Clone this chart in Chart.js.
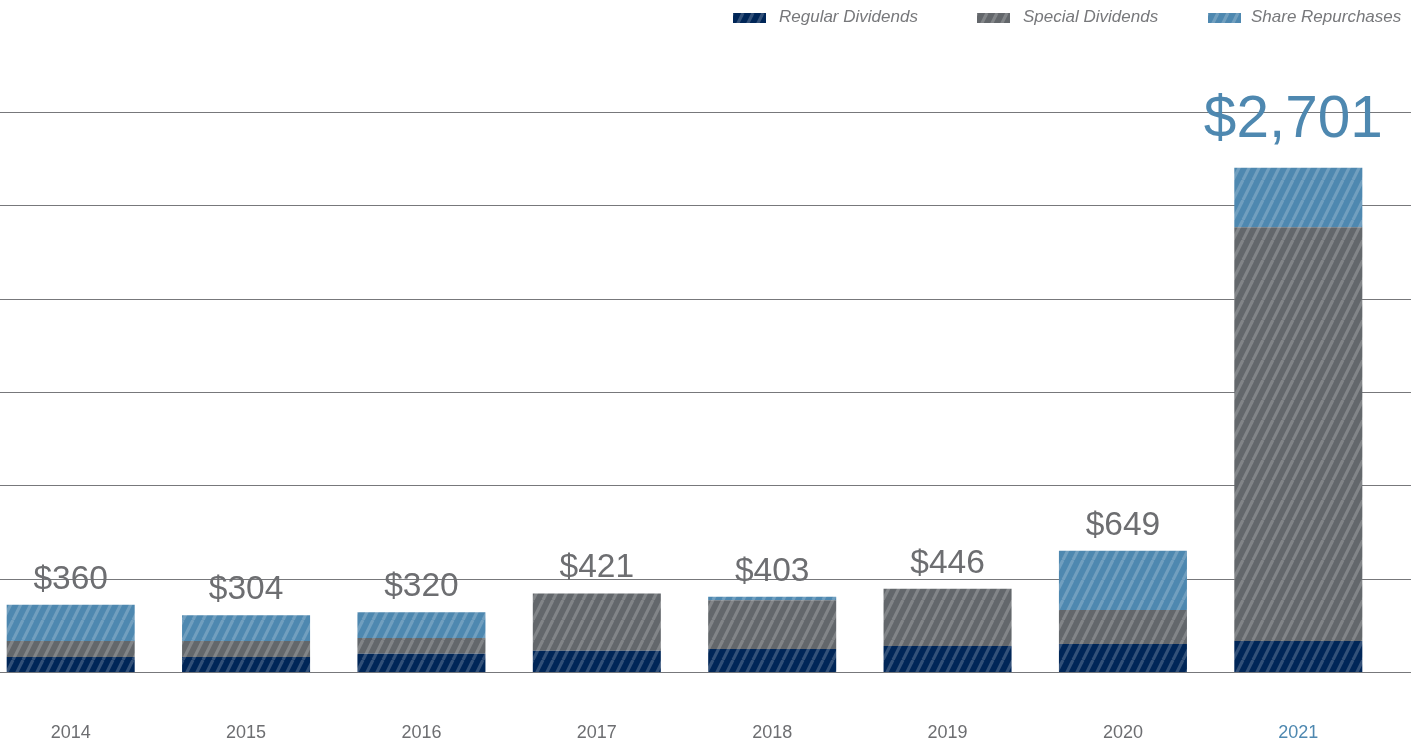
<!DOCTYPE html>
<html>
<head>
<meta charset="utf-8">
<script src="https://cdn.jsdelivr.net/npm/chart.js@4"></script>
<style>
  html, body { margin: 0; padding: 0; width: 1416px; height: 744px; overflow: hidden; background: #fff; }
  #wrap { position: absolute; left: -17px; top: 0; width: 1428px; height: 744px; }
  .lg { position: absolute; top: 7px; font-family: "Liberation Sans", Arial, sans-serif; font-style: italic; font-size: 17px; color: #77787b; white-space: nowrap; line-height: 20px; }
  .sw { position: absolute; top: 13px; width: 33px; height: 10px; }
</style>
</head>
<body>
<div id="wrap"><canvas id="c"></canvas></div>
<canvas class="sw" id="sw0" width="33" height="10" style="left:733px"></canvas>
<div class="lg" style="left:779px">Regular Dividends</div>
<canvas class="sw" id="sw1" width="33" height="10" style="left:977px"></canvas>
<div class="lg" style="left:1023px">Special Dividends</div>
<canvas class="sw" id="sw2" width="33" height="10" style="left:1208px"></canvas>
<div class="lg" style="left:1251px">Share Repurchases</div>
<script>
const years = ["2014", "2015", "2016", "2017", "2018", "2019", "2020", "2021"];
const regularDividends = [80, 80, 98, 114, 123, 139, 150, 166];
const specialDividends = [86, 86, 84, 307, 262, 307, 182, 2216];
const shareRepurchases = [194, 138, 138, 0, 18, 0, 317, 319];
const totalLabels = ["$360", "$304", "$320", "$421", "$403", "$446", "$649", "$2,701"];
const gridValues = [0, 500, 1000, 1500, 2000, 2500, 3000];
const seriesNames = ["Regular Dividends", "Special Dividends", "Share Repurchases"];
const seriesColors = ["#002658", "#63676b", "#4e88b0"];

function makePattern(color) {
  const t = document.createElement('canvas');
  t.width = 10; t.height = 20;
  const g = t.getContext('2d');
  g.fillStyle = color;
  g.fillRect(0, 0, 10, 20);
  g.strokeStyle = 'rgba(255,255,255,0.2)';
  g.lineWidth = 3.2;
  for (const x0 of [-10, 0, 10]) {
    g.beginPath();
    g.moveTo(x0, 20);
    g.lineTo(x0 + 10, 0);
    g.stroke();
  }
  return g.createPattern(t, 'repeat');
}

const patterns = seriesColors.map(makePattern);
['sw0', 'sw1', 'sw2'].forEach((id, i) => {
  const cv = document.getElementById(id);
  const g = cv.getContext('2d');
  g.fillStyle = makePattern(seriesColors[i]);
  g.fillRect(0, 0, 33, 10);
});

const gridPlugin = {
  id: 'gridLines',
  beforeDatasetsDraw(chart) {
    const ctx = chart.ctx;
    const y = chart.scales.y;
    ctx.save();
    ctx.strokeStyle = '#77787b';
    ctx.lineWidth = 1;
    gridValues.forEach(v => {
      const py = Math.round(y.getPixelForValue(v)) + 0.5;
      ctx.beginPath();
      ctx.moveTo(0, py);
      ctx.lineTo(chart.width, py);
      ctx.stroke();
    });
    ctx.restore();
  }
};

const totalsPlugin = {
  id: 'totals',
  afterDatasetsDraw(chart) {
    const ctx = chart.ctx;
    const top = chart.getDatasetMeta(2);
    ctx.save();
    ctx.textAlign = 'center';
    ctx.textBaseline = 'alphabetic';
    top.data.forEach((bar, i) => {
      const last = i === years.length - 1;
      ctx.font = (last ? '58.5px' : '33.5px') + ' "Liberation Sans", Arial, sans-serif';
      ctx.fillStyle = last ? '#4e88b0' : '#6d6e71';
      ctx.fillText(totalLabels[i], bar.x - (last ? 5 : 0), bar.y - (last ? 31 : 16));
    });
    ctx.restore();
  }
};

new Chart(document.getElementById('c'), {
  type: 'bar',
  data: {
    labels: years,
    datasets: [
      { label: seriesNames[0], data: regularDividends, backgroundColor: patterns[0] },
      { label: seriesNames[1], data: specialDividends, backgroundColor: patterns[1] },
      { label: seriesNames[2], data: shareRepurchases, backgroundColor: patterns[2] }
    ]
  },
  options: {
    responsive: true,
    maintainAspectRatio: false,
    animation: false,
    layout: { padding: { top: 112, left: 0, right: 25, bottom: 3 } },
    datasets: { bar: { categoryPercentage: 1, barPercentage: 0.73, borderWidth: 0 } },
    plugins: { legend: { display: false }, tooltip: { enabled: false } },
    scales: {
      x: {
        stacked: true,
        grid: { display: false, drawTicks: false },
        border: { display: false },
        afterFit(scale) { scale.height = 69; },
        ticks: {
          padding: 50,
          font: { family: '"Liberation Sans", Arial, sans-serif', size: 18 },
          color: (c) => c.index === years.length - 1 ? '#4e88b0' : '#6d6e71'
        }
      },
      y: {
        stacked: true,
        display: false,
        min: 0,
        max: 3000,
        ticks: { stepSize: 500 }
      }
    }
  },
  plugins: [gridPlugin, totalsPlugin]
});
</script>
</body>
</html>
